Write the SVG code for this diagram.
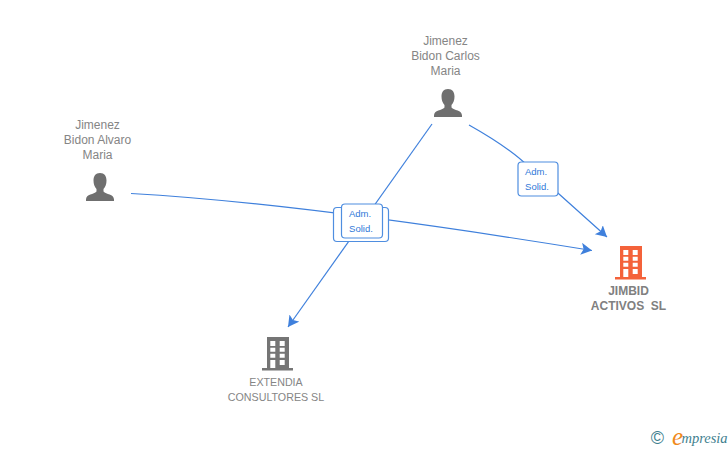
<svg xmlns="http://www.w3.org/2000/svg" width="728" height="450" viewBox="0 0 728 450">
<style>
text{font-family:"Liberation Sans",Arial,sans-serif;text-anchor:middle}
.n{font-size:12px;fill:#858585}
.b{font-size:10.7px;fill:#858585}
.o{font-size:12px;fill:#808080;font-weight:bold}
.l{font-size:9.5px;fill:#2f78d8}
.e{fill:none;stroke:#3f80dc;stroke-width:1.2}
.box{fill:#fff;stroke:#4f8ee0;stroke-width:1.2}
</style>
<defs>
<marker id="a" markerUnits="userSpaceOnUse" markerWidth="14" markerHeight="14" refX="11" refY="6" orient="auto"><path d="M0 0L11 6L0 12L2.500 6Z" fill="#3f80dc"/></marker>
<g id="person"><path d="M0-28c-4.500 0-6.500 3-6.500 7.500 0 3.500 1 6.500 3 8.500v2.500c-2.500 3-10.500 2.500-10.500 8v1.500h28v-1.500c0-5.500-8-5-10.500-8V-12c2-2 3-5 3-8.500 0-4.500-2-7.500-6.500-7.500z" fill="#6f6f6f"/></g>
<g id="bld"><path fill-rule="evenodd" d="M-11-33H11V-2h4v2.500h-31V-2h5zM-7.700-29v5h5v-5zM1.700-29v5h5v-5zM-7.700-22.300v4h5v-4zM1.700-22.300v4h5v-4zM-7.700-16.300v4h5v-4zM1.700-16.300v4h5v-4zM-7.700-10V-2h5v-8zM1.700-10v5h5v-5z"/></g>
</defs>
<g id="edges">
<path class="e" d="M131 193.500Q300 203 592 250.500" marker-end="url(#a)"/>
<path class="e" d="M432 124L288 327" marker-end="url(#a)"/>
<path class="e" d="M469 125Q510 148 530 168L607 237" marker-end="url(#a)"/>
</g>
<g id="label-back"><rect class="box" x="333.500" y="207.500" width="55" height="34" rx="3.500"/></g>
<g id="label-mid"><rect class="box" x="341.500" y="204" width="41" height="34" rx="3.500"/><text class="l" x="360" y="217">Adm.</text><text class="l" x="361" y="232">Solid.</text></g>
<g id="label-right"><rect class="box" x="518" y="162" width="40" height="34" rx="3.500"/><text class="l" x="536" y="175">Adm.</text><text class="l" x="537" y="190">Solid.</text></g>
<g id="person-alvaro"><text class="n" x="97.500" y="129">Jimenez</text><text class="n" x="97.500" y="144">Bidon Alvaro</text><text class="n" x="97.500" y="159">Maria</text><use href="#person" x="100" y="201"/></g>
<g id="person-carlos"><text class="n" x="445.500" y="45">Jimenez</text><text class="n" x="445.500" y="60">Bidon Carlos</text><text class="n" x="445.500" y="75">Maria</text><use href="#person" x="448" y="117"/></g>
<g id="jimbid"><use href="#bld" x="631" y="279" fill="#f4623a"/><text class="o" x="628.500" y="295">JIMBID</text><text class="o" x="628.500" y="310" xml:space="preserve">ACTIVOS  SL</text></g>
<g id="extendia"><use href="#bld" x="278" y="370" fill="#757575"/><text class="b" x="276" y="386">EXTENDIA</text><text class="b" x="276" y="401">CONSULTORES SL</text></g>
<g id="logo"><text x="657.500" y="444" style="font-size:18px;fill:#3f7f8f">©</text><text x="677.500" y="445" style="font-family:'Liberation Serif',serif;font-size:25px;font-style:italic;fill:#f08a1c">e</text><text x="704.500" y="443" style="font-family:'Liberation Serif',serif;font-size:14.500px;font-style:italic;fill:#3f7f8f">mpresia</text></g>
</svg>
